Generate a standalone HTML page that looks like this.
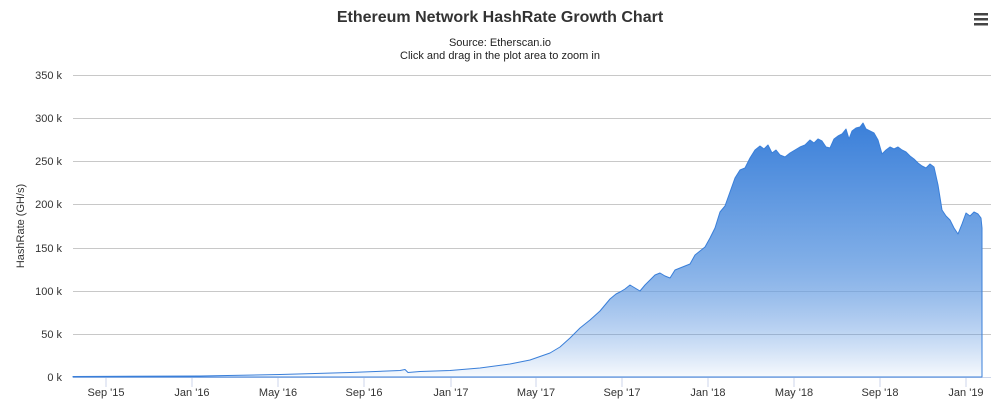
<!DOCTYPE html>
<html><head><style>
body{margin:0;background:#fff;width:1000px;height:412px;overflow:hidden;font-family:"Liberation Sans",sans-serif}
</style></head><body>
<svg width="1000" height="412" xmlns="http://www.w3.org/2000/svg" font-family="Liberation Sans, sans-serif">
<defs><linearGradient id="g" gradientUnits="userSpaceOnUse" x1="0" y1="122" x2="0" y2="377">
<stop offset="0" stop-color="#3a7fd9"/><stop offset="0.5" stop-color="#7aaae6"/><stop offset="1" stop-color="#3a7fd9" stop-opacity="0.04"/></linearGradient></defs>
<text x="500" y="22" text-anchor="middle" font-size="16" font-weight="bold" fill="#333">Ethereum Network HashRate Growth Chart</text>
<text x="500" y="46" text-anchor="middle" font-size="11" fill="#222">Source: Etherscan.io</text>
<text x="500" y="59" text-anchor="middle" font-size="11" fill="#222">Click and drag in the plot area to zoom in</text>
<g fill="#444"><rect x="974" y="13" width="14" height="2.5"/><rect x="974" y="18" width="14" height="2.5"/><rect x="974" y="23" width="14" height="2.5"/></g>
<g stroke="#c8c8c8" stroke-width="1">
<line x1="73" x2="991" y1="75.5" y2="75.5"/><line x1="73" x2="991" y1="118.5" y2="118.5"/><line x1="73" x2="991" y1="161.5" y2="161.5"/><line x1="73" x2="991" y1="204.5" y2="204.5"/><line x1="73" x2="991" y1="248.5" y2="248.5"/><line x1="73" x2="991" y1="291.5" y2="291.5"/><line x1="73" x2="991" y1="334.5" y2="334.5"/>
</g>
<line x1="73" x2="991" y1="377.5" y2="377.5" stroke="#ccd6eb"/>
<g stroke="#ccd6eb"><line x1="106" x2="106" y1="377" y2="387"/><line x1="192" x2="192" y1="377" y2="387"/><line x1="278" x2="278" y1="377" y2="387"/><line x1="364" x2="364" y1="377" y2="387"/><line x1="451" x2="451" y1="377" y2="387"/><line x1="536" x2="536" y1="377" y2="387"/><line x1="622" x2="622" y1="377" y2="387"/><line x1="708" x2="708" y1="377" y2="387"/><line x1="794" x2="794" y1="377" y2="387"/><line x1="880" x2="880" y1="377" y2="387"/><line x1="966" x2="966" y1="377" y2="387"/></g>
<g font-size="11" fill="#333" text-anchor="end">
<text x="62" y="79">350 k</text><text x="62" y="122">300 k</text><text x="62" y="165">250 k</text><text x="62" y="208">200 k</text><text x="62" y="252">150 k</text><text x="62" y="295">100 k</text><text x="62" y="338">50 k</text><text x="62" y="381">0 k</text></g>
<g font-size="11" fill="#333" text-anchor="middle">
<text x="106" y="396">Sep '15</text><text x="192" y="396">Jan '16</text><text x="278" y="396">May '16</text><text x="364" y="396">Sep '16</text><text x="451" y="396">Jan '17</text><text x="536" y="396">May '17</text><text x="622" y="396">Sep '17</text><text x="708" y="396">Jan '18</text><text x="794" y="396">May '18</text><text x="880" y="396">Sep '18</text><text x="966" y="396">Jan '19</text></g>
<text transform="translate(24,226) rotate(-90)" text-anchor="middle" font-size="11" fill="#333">HashRate (GH/s)</text>
<path d="M73,377 L73,376.5 L200,376 L280,374.5 L350,372.5 L400,370.5 L405,369.5 L408,372.5 L420,371.5 L450,370.5 L480,368 L510,364 L530,360 L550,353 L560,347 L570,338 L580,328 L590,320 L600,311 L610,299 L616,294 L620,292 L625,289 L630,285 L635,288 L640,291 L645,285 L650,280 L655,275 L660,273 L665,276 L670,278 L675,270 L680,268 L685,266 L690,264 L695,255 L700,251 L705,247 L710,238 L715,228 L720,212 L725,206 L730,192 L735,178 L740,170 L745,168 L750,158 L755,150 L760,146 L764,149 L768,145 L772,153 L776,150 L780,155 L785,157 L790,153 L795,150 L800,147 L805,145 L810,140 L814,143 L818,139 L822,141 L826,147 L830,148 L834,139 L838,136 L842,134 L846,129 L849,139 L852,131 L856,128 L860,127 L863,123 L866,129 L870,131 L874,133 L878,140 L882,154 L886,150 L890,147 L894,149 L898,147 L902,150 L906,152 L910,156 L914,159 L918,163 L922,166 L926,168 L930,164 L934,167 L938,185 L942,210 L946,216 L950,220 L954,228 L958,234 L962,224 L966,213 L970,216 L974,212 L978,214 L981,218 L982,228 L982,377 Z" fill="url(#g)" stroke="#3a7fd9" stroke-width="1" stroke-linejoin="round"/>
</svg>
</body></html>
